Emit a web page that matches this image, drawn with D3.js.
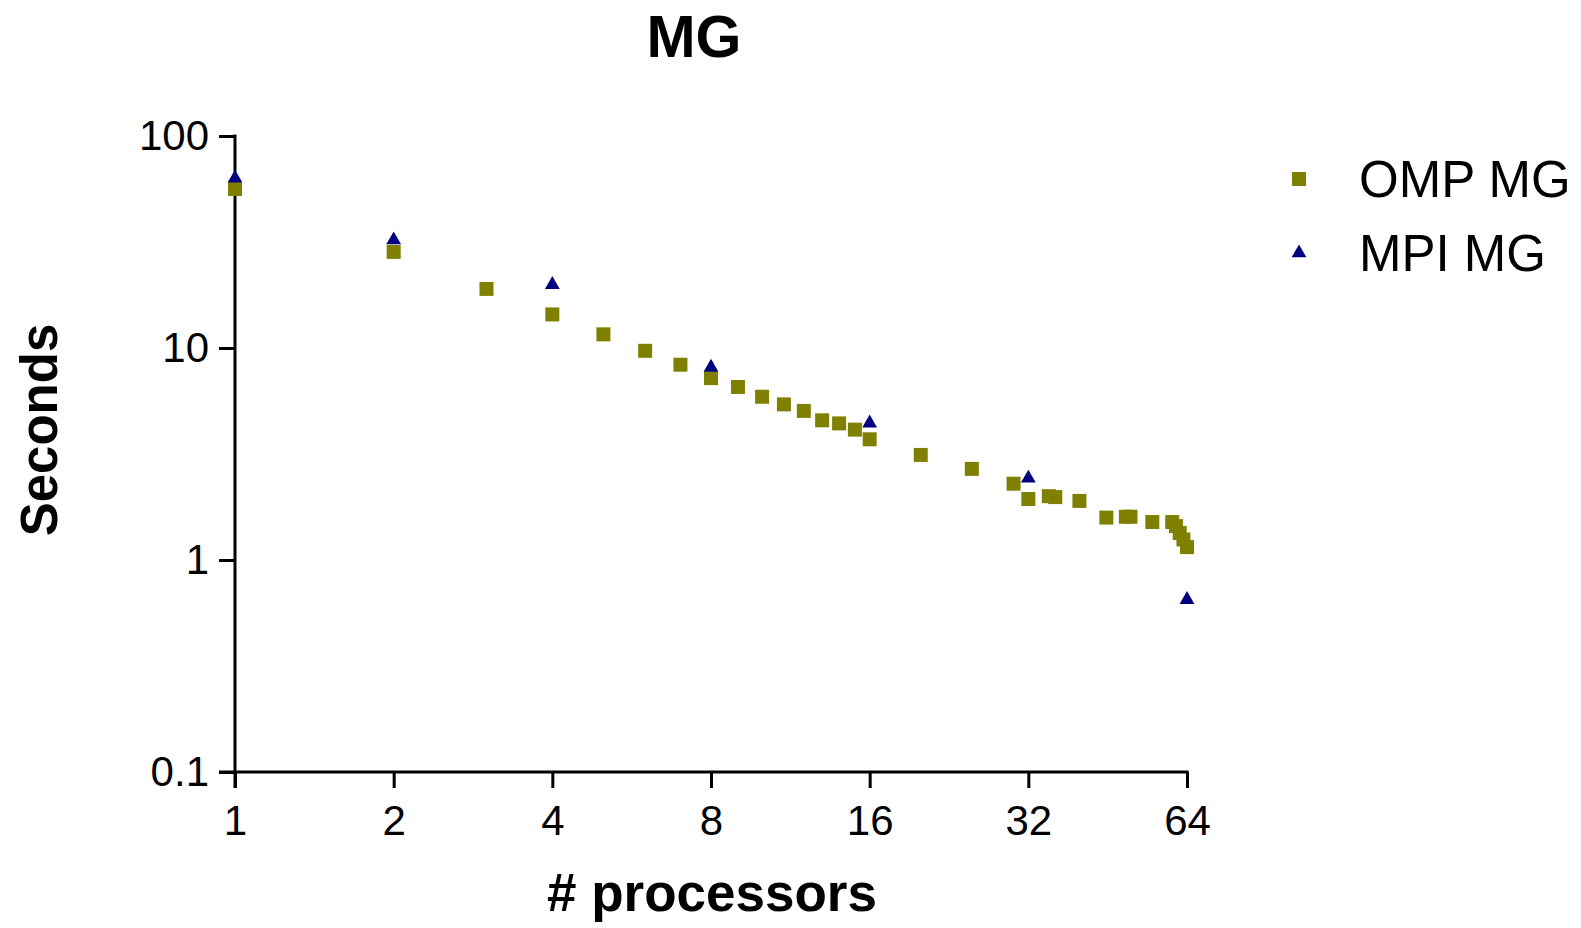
<!DOCTYPE html>
<meta charset="utf-8">
<html>
  <head>
    <style>
      body { margin: 0; background: #fff; }
      text { font-family: Arial, "Liberation Sans", sans-serif; fill: #000; }
      .axis path, .axis line { stroke: #000; stroke-width: 3px; }
      .axis text { font-size: 42px; }
      .title { font-size: 59px; font-weight: bold; }
      .axis-label { font-size: 51px; font-weight: bold; }
      .xlabel { font-size: 53px; }
      .legend text { font-size: 51px; }
    </style>
    <script src="https://d3js.org/d3.v7.min.js"></script>
  </head>
  <body>
    <div id="chart"></div>
    <script type="text/javascript">
      // values
      var ompProcs = [1, 2, 3, 4, 5, 6, 7, 8, 9, 10, 11, 12, 13, 14, 15, 16,
                      20, 25, 30, 32, 35, 36, 40, 45, 49, 50, 55, 60, 61, 62, 63, 64],
          ompSeconds = [56.2, 28.4, 19.0, 14.4, 11.6, 9.7, 8.34, 7.21, 6.55, 5.89, 5.42, 5.05, 4.56, 4.41, 4.12, 3.71,
                        3.13, 2.69, 2.29, 1.94, 2.0, 1.98, 1.90, 1.585, 1.60, 1.60, 1.51, 1.51, 1.445, 1.34, 1.25, 1.15],
          mpiProcs = [1, 2, 4, 8, 16, 32, 64],
          mpiSeconds = [63.2, 32.3, 19.9, 8.1, 4.42, 2.43, 0.65],
          xTicks = [1, 2, 4, 8, 16, 32, 64],
          yTicks = [0.1, 1, 10, 100],
          seriesNames = ["OMP MG", "MPI MG"];

      var width = 1581, height = 928,
          tickLen = 16,
          plot = { left: 235, right: 1187, top: 136, bottom: 772 };

      var svg = d3.select("#chart").append("svg")
          .attr("width", width)
          .attr("height", height);

      var x = d3.scaleLog().base(2).domain([1, 64]).range([plot.left, plot.right]);
      var y = d3.scaleLog().domain([0.1, 100]).range([plot.bottom, plot.top]);

      var fmtY = function(d) { return d < 1 ? "0.1" : d3.format("d")(d); };

      var yAxis = svg.append("g")
          .attr("class", "axis")
          .attr("transform", "translate(" + plot.left + ",0)")
          .call(d3.axisLeft(y).tickValues(yTicks).tickFormat(fmtY).tickSize(tickLen).tickPadding(10));
      yAxis.select(".domain").remove();

      var xAxis = svg.append("g")
          .attr("class", "axis")
          .attr("transform", "translate(0," + plot.bottom + ")")
          .call(d3.axisBottom(x).tickValues(xTicks).tickFormat(d3.format("d")).tickSize(tickLen).tickPadding(17));
      xAxis.select(".domain").remove();

      // axis lines, crossing a bit like the original
      svg.append("line")
          .attr("x1", plot.left).attr("x2", plot.left)
          .attr("y1", y(100) - 1.5).attr("y2", plot.bottom + tickLen)
          .attr("stroke", "#000").attr("stroke-width", 3);
      svg.append("line")
          .attr("x1", plot.left - tickLen).attr("x2", x(64) + 1.5)
          .attr("y1", plot.bottom).attr("y2", plot.bottom)
          .attr("stroke", "#000").attr("stroke-width", 3);

      var square = d3.symbol().type(d3.symbolSquare).size(196);
      var triangle = d3.symbol().type(d3.symbolTriangle).size(95);

      var omp = ompProcs.map(function(p, i) { return { x: p, y: ompSeconds[i] }; });
      var mpi = mpiProcs.map(function(p, i) { return { x: p, y: mpiSeconds[i] }; });

      svg.append("g").selectAll("path")
          .data(omp)
          .enter().append("path")
            .attr("d", square)
            .attr("fill", "#808000")
            .attr("transform", function(d) { return "translate(" + x(d.x) + "," + y(d.y) + ")"; });

      svg.append("g").selectAll("path")
          .data(mpi)
          .enter().append("path")
            .attr("d", triangle)
            .attr("fill", "#000080")
            .attr("transform", function(d) { return "translate(" + x(d.x) + "," + y(d.y) + ")"; });

      // titles
      svg.append("text")
          .attr("class", "title")
          .attr("x", 694).attr("y", 57)
          .style("text-anchor", "middle")
          .text("MG");

      svg.append("text")
          .attr("class", "axis-label")
          .attr("transform", "translate(57,430) rotate(-90)")
          .style("text-anchor", "middle")
          .text("Seconds");

      svg.append("text")
          .attr("class", "axis-label xlabel")
          .attr("x", 712).attr("y", 911)
          .style("text-anchor", "middle")
          .text("# processors");

      // legend
      var legend = svg.append("g").attr("class", "legend");
      var legendItems = legend.selectAll("g")
          .data(seriesNames)
          .enter().append("g")
            .attr("transform", function(d, i) { return "translate(1299," + (179 + i * 74) + ")"; });

      legendItems.append("path")
          .attr("d", function(d, i) { return i === 0 ? square() : triangle(); })
          .attr("fill", function(d, i) { return i === 0 ? "#808000" : "#000080"; });

      legendItems.append("text")
          .attr("x", 60).attr("y", 18)
          .text(function(d) { return d; });
    </script>
  </body>
</html>
